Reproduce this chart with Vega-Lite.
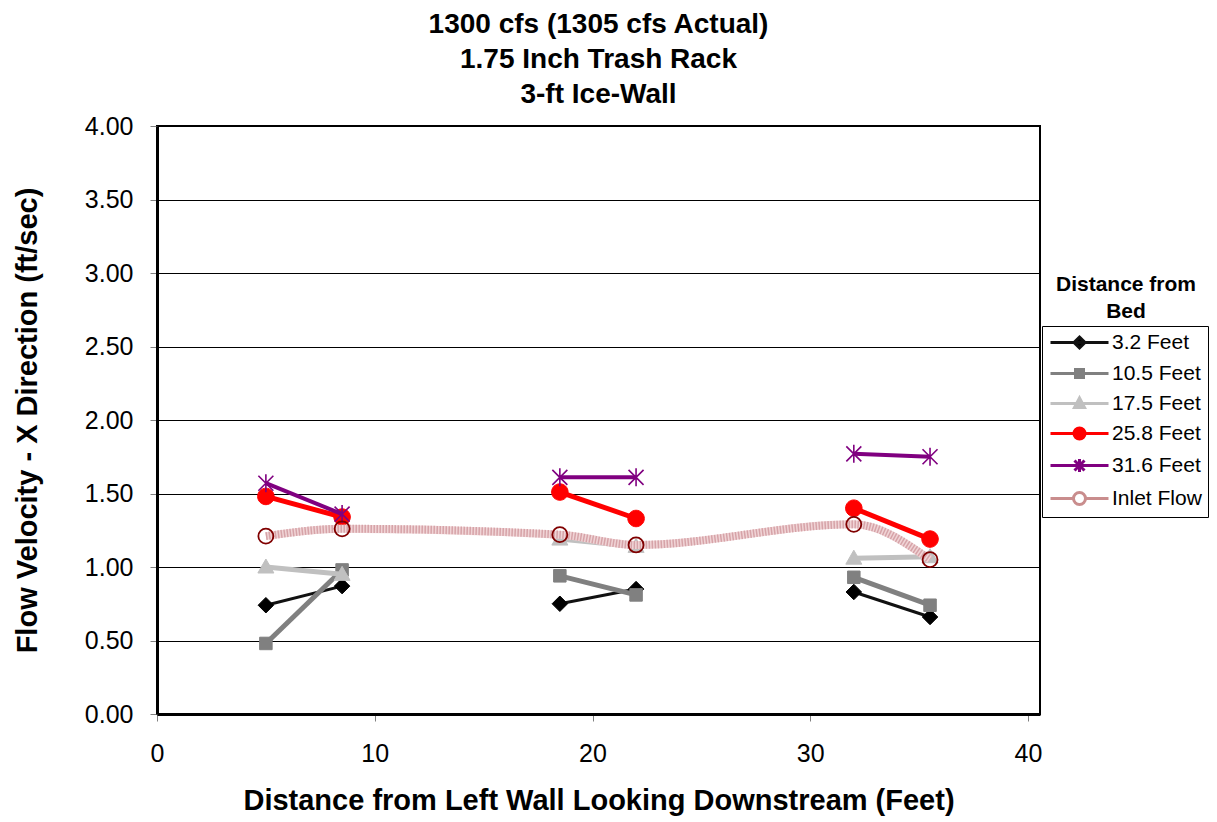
{
  "$schema": "https://vega.github.io/schema/vega-lite/v6.json",
  "width": 883,
  "height": 588,
  "autosize": {"type": "none"},
  "padding": {"left": 157, "top": 126, "right": 177, "bottom": 108},
  "background": "white",
  "title": {
    "text": ["1300 cfs (1305 cfs Actual)", "1.75 Inch Trash Rack", "3-ft Ice-Wall"],
    "fontSize": 28, "fontWeight": "bold", "font": "Liberation Sans", "lineHeight": 35,
    "offset": 5, "anchor": "middle", "color": "#000"
  },
  "data": {
    "values": [
      {"series": "3.2 Feet", "x": 5, "y": 0.74, "seg": "a"},
      {"series": "3.2 Feet", "x": 8.5, "y": 0.87, "seg": "a"},
      {"series": "3.2 Feet", "x": 18.5, "y": 0.75, "seg": "b"},
      {"series": "3.2 Feet", "x": 22, "y": 0.85, "seg": "b"},
      {"series": "3.2 Feet", "x": 32, "y": 0.83, "seg": "c"},
      {"series": "3.2 Feet", "x": 35.5, "y": 0.66, "seg": "c"},
      {"series": "10.5 Feet", "x": 5, "y": 0.48, "seg": "a"},
      {"series": "10.5 Feet", "x": 8.5, "y": 0.98, "seg": "a"},
      {"series": "10.5 Feet", "x": 18.5, "y": 0.94, "seg": "b"},
      {"series": "10.5 Feet", "x": 22, "y": 0.81, "seg": "b"},
      {"series": "10.5 Feet", "x": 32, "y": 0.93, "seg": "c"},
      {"series": "10.5 Feet", "x": 35.5, "y": 0.74, "seg": "c"},
      {"series": "17.5 Feet", "x": 5, "y": 1.00, "seg": "a"},
      {"series": "17.5 Feet", "x": 8.5, "y": 0.95, "seg": "a"},
      {"series": "17.5 Feet", "x": 18.5, "y": 1.19, "seg": "b"},
      {"series": "17.5 Feet", "x": 22, "y": 1.14, "seg": "b"},
      {"series": "17.5 Feet", "x": 32, "y": 1.06, "seg": "c"},
      {"series": "17.5 Feet", "x": 35.5, "y": 1.07, "seg": "c"},
      {"series": "25.8 Feet", "x": 5, "y": 1.48, "seg": "a"},
      {"series": "25.8 Feet", "x": 8.5, "y": 1.34, "seg": "a"},
      {"series": "25.8 Feet", "x": 18.5, "y": 1.51, "seg": "b"},
      {"series": "25.8 Feet", "x": 22, "y": 1.33, "seg": "b"},
      {"series": "25.8 Feet", "x": 32, "y": 1.40, "seg": "c"},
      {"series": "25.8 Feet", "x": 35.5, "y": 1.19, "seg": "c"},
      {"series": "31.6 Feet", "x": 5, "y": 1.57, "seg": "a"},
      {"series": "31.6 Feet", "x": 8.5, "y": 1.36, "seg": "a"},
      {"series": "31.6 Feet", "x": 18.5, "y": 1.61, "seg": "b"},
      {"series": "31.6 Feet", "x": 22, "y": 1.61, "seg": "b"},
      {"series": "31.6 Feet", "x": 32, "y": 1.77, "seg": "c"},
      {"series": "31.6 Feet", "x": 35.5, "y": 1.75, "seg": "c"},
      {"series": "Inlet Flow", "x": 5, "y": 1.21, "seg": "a"},
      {"series": "Inlet Flow", "x": 8.5, "y": 1.26, "seg": "a"},
      {"series": "Inlet Flow", "x": 18.5, "y": 1.22, "seg": "a"},
      {"series": "Inlet Flow", "x": 22, "y": 1.15, "seg": "a"},
      {"series": "Inlet Flow", "x": 32, "y": 1.29, "seg": "a"},
      {"series": "Inlet Flow", "x": 35.5, "y": 1.05, "seg": "a"}
    ]
  },
  "layer": [
    {
      "transform": [{"filter": "datum.series === '3.2 Feet'"}],
      "mark": {"type": "line", "interpolate": "monotone", "color": "#111111", "strokeWidth": 3},
      "encoding": {
        "x": {
          "field": "x", "type": "quantitative",
          "scale": {"domain": [0, 40.55], "nice": false, "zero": true},
          "axis": {
            "values": [0, 10, 20, 30, 40], "grid": false, "labelOverlap": false, "labelFlush": false,
            "domainColor": "#000", "domainWidth": 3,
            "tickColor": "#808080", "tickSize": 7, "tickWidth": 1,
            "labelFontSize": 25, "labelPadding": 20, "labelColor": "#000",
            "title": "Distance from Left Wall Looking Downstream (Feet)",
            "titleFontSize": 29, "titleFontWeight": "bold", "titlePadding": 20, "titleColor": "#000"
          }
        },
        "y": {
          "field": "y", "type": "quantitative",
          "scale": {"domain": [0, 4], "nice": false},
          "axis": {
            "values": [0, 0.25, 0.5, 0.75, 1, 1.25, 1.5, 1.75, 2, 2.25, 2.5, 2.75, 3, 3.25, 3.5, 3.75, 4],
            "format": ".2f", "grid": true, "gridColor": "#000", "gridWidth": 1, "labelOverlap": false,
            "domainColor": "#000", "domainWidth": 3,
            "tickColor": "#808080", "tickSize": 7, "tickWidth": 1,
            "labelFontSize": 25, "labelPadding": 17, "labelColor": "#000",
            "title": "Flow Velocity - X Direction (ft/sec)",
            "titleFontSize": 29, "titleFontWeight": "bold", "titlePadding": 42, "titleColor": "#000"
          }
        },
        "detail": {"field": "seg"}
      }
    },
    {
      "transform": [{"filter": "datum.series === '3.2 Feet'"}],
      "mark": {"type": "point", "shape": "M0,-1.55L1.55,0L0,1.55L-1.55,0Z", "size": 100, "filled": true, "fill": "#000000", "stroke": "#000000", "strokeWidth": 1, "opacity": 1},
      "encoding": {
        "x": {"field": "x", "type": "quantitative"},
        "y": {"field": "y", "type": "quantitative"}
      }
    },
    {
      "transform": [{"filter": "datum.series === '10.5 Feet'"}],
      "mark": {"type": "line", "interpolate": "monotone", "color": "#808080", "strokeWidth": 5},
      "encoding": {
        "x": {"field": "x", "type": "quantitative"},
        "y": {"field": "y", "type": "quantitative"},
        "detail": {"field": "seg"}
      }
    },
    {
      "transform": [{"filter": "datum.series === '10.5 Feet'"}],
      "mark": {"type": "point", "shape": "M-1.25,-1.25L1.25,-1.25L1.25,1.25L-1.25,1.25Z", "size": 100, "filled": true, "fill": "#808080", "stroke": "#808080", "strokeWidth": 1, "opacity": 1},
      "encoding": {
        "x": {"field": "x", "type": "quantitative"},
        "y": {"field": "y", "type": "quantitative"}
      }
    },
    {
      "transform": [{"filter": "datum.series === '17.5 Feet'"}],
      "mark": {"type": "line", "interpolate": "monotone", "color": "#c0c0c0", "strokeWidth": 5},
      "encoding": {
        "x": {"field": "x", "type": "quantitative"},
        "y": {"field": "y", "type": "quantitative"},
        "detail": {"field": "seg"}
      }
    },
    {
      "transform": [{"filter": "datum.series === '17.5 Feet'"}],
      "mark": {"type": "point", "shape": "M0,-1.6L1.6,1.2L-1.6,1.2Z", "size": 100, "filled": true, "fill": "#c0c0c0", "stroke": "#c0c0c0", "strokeWidth": 1, "opacity": 1},
      "encoding": {
        "x": {"field": "x", "type": "quantitative"},
        "y": {"field": "y", "type": "quantitative"}
      }
    },
    {
      "transform": [{"filter": "datum.series === '25.8 Feet'"}],
      "mark": {"type": "line", "interpolate": "monotone", "color": "#ff0000", "strokeWidth": 5},
      "encoding": {
        "x": {"field": "x", "type": "quantitative"},
        "y": {"field": "y", "type": "quantitative"},
        "detail": {"field": "seg"}
      }
    },
    {
      "transform": [{"filter": "datum.series === '25.8 Feet'"}],
      "mark": {"type": "point", "shape": "M1.65,0A1.65,1.65,0,1,1,-1.65,0A1.65,1.65,0,1,1,1.65,0Z", "size": 100, "filled": true, "fill": "#ff0000", "stroke": "#ff0000", "strokeWidth": 1, "opacity": 1},
      "encoding": {
        "x": {"field": "x", "type": "quantitative"},
        "y": {"field": "y", "type": "quantitative"}
      }
    },
    {
      "transform": [{"filter": "datum.series === '31.6 Feet'"}],
      "mark": {"type": "line", "interpolate": "monotone", "color": "#800080", "strokeWidth": 4},
      "encoding": {
        "x": {"field": "x", "type": "quantitative"},
        "y": {"field": "y", "type": "quantitative"},
        "detail": {"field": "seg"}
      }
    },
    {
      "transform": [{"filter": "datum.series === '31.6 Feet'"}],
      "mark": {"type": "point", "shape": "M-1.5,-1.5L1.5,1.5M-1.5,1.5L1.5,-1.5M0,-1.8L0,1.8", "size": 100, "filled": false, "stroke": "#800080", "strokeWidth": 1.6, "opacity": 1},
      "encoding": {
        "x": {"field": "x", "type": "quantitative"},
        "y": {"field": "y", "type": "quantitative"}
      }
    },
    {
      "transform": [{"filter": "datum.series === 'Inlet Flow'"}],
      "mark": {"type": "line", "interpolate": "monotone", "color": "#f0d4d6", "strokeWidth": 8},
      "encoding": {
        "x": {"field": "x", "type": "quantitative"},
        "y": {"field": "y", "type": "quantitative"}
      }
    },
    {
      "transform": [{"filter": "datum.series === 'Inlet Flow'"}],
      "mark": {"type": "line", "interpolate": "monotone", "color": "#d6a3a8", "strokeWidth": 8, "strokeDash": [1.5, 1.5]},
      "encoding": {
        "x": {"field": "x", "type": "quantitative"},
        "y": {"field": "y", "type": "quantitative"}
      }
    },
    {
      "transform": [{"filter": "datum.series === 'Inlet Flow'"}],
      "mark": {"type": "point", "shape": "M1.5,0A1.5,1.5,0,1,1,-1.5,0A1.5,1.5,0,1,1,1.5,0Z", "size": 100, "filled": false, "stroke": "#800000", "strokeWidth": 1.8, "opacity": 1},
      "encoding": {
        "x": {"field": "x", "type": "quantitative"},
        "y": {"field": "y", "type": "quantitative"}
      }
    },
    {
      "mark": {"type": "point", "opacity": 0, "filled": true, "strokeWidth": 3, "size": 100},
      "encoding": {
        "x": {"field": "x", "type": "quantitative"},
        "y": {"field": "y", "type": "quantitative"},
        "shape": {
          "field": "series", "type": "nominal",
          "scale": {
            "domain": ["3.2 Feet", "10.5 Feet", "17.5 Feet", "25.8 Feet", "31.6 Feet", "Inlet Flow"],
            "range": [
              "M-5.8,0L5.8,0M0,-1.1L1.1,0L0,1.1L-1.1,0Z",
              "M-5.8,0L5.8,0M-0.8,-0.8L0.8,-0.8L0.8,0.8L-0.8,0.8Z",
              "M-5.8,0L5.8,0M0,-1.1L1,0.8L-1,0.8Z",
              "M-5.8,0L5.8,0M1.1,0A1.1,1.1,0,1,1,-1.1,0A1.1,1.1,0,1,1,1.1,0Z",
              "M-5.8,0L5.8,0M-1,-1L1,1M-1,1L1,-1M0,-1.3L0,1.3",
              "M-5.8,0L-1.2,0M1.2,0L5.8,0M1.2,0A1.2,1.2,0,1,1,-1.2,0A1.2,1.2,0,1,1,1.2,0Z"
            ]
          },
          "legend": {
            "orient": "none", "legendX": 885, "legendY": 200,
            "title": null, "padding": 6, "strokeColor": "#000",
            "labelFontSize": 21, "labelColor": "#000", "labelOffset": 22,
            "symbolSize": 100, "symbolOffset": 21, "symbolStrokeWidth": 3, "symbolOpacity": 1, "rowPadding": 8
          }
        },
        "stroke": {
          "field": "series", "type": "nominal",
          "scale": {
            "domain": ["3.2 Feet", "10.5 Feet", "17.5 Feet", "25.8 Feet", "31.6 Feet", "Inlet Flow"],
            "range": ["#111111", "#808080", "#c0c0c0", "#ff0000", "#800080", "#c98d8d"]
          },
          "legend": {
            "orient": "none", "legendX": 885, "legendY": 200,
            "title": null, "padding": 6, "strokeColor": "#000",
            "labelFontSize": 21, "labelColor": "#000", "labelOffset": 22,
            "symbolSize": 100, "symbolOffset": 21, "symbolStrokeWidth": 3, "symbolOpacity": 1, "rowPadding": 8
          }
        },
        "fill": {
          "field": "series", "type": "nominal",
          "scale": {
            "domain": ["3.2 Feet", "10.5 Feet", "17.5 Feet", "25.8 Feet", "31.6 Feet", "Inlet Flow"],
            "range": ["#000000", "#808080", "#c0c0c0", "#ff0000", "#800080", "#ffffff"]
          },
          "legend": {
            "orient": "none", "legendX": 885, "legendY": 200,
            "title": null, "padding": 6, "strokeColor": "#000",
            "labelFontSize": 21, "labelColor": "#000", "labelOffset": 22,
            "symbolSize": 100, "symbolOffset": 21, "symbolStrokeWidth": 3, "symbolOpacity": 1, "rowPadding": 8
          }
        },
        "strokeWidth": {
          "field": "series", "type": "ordinal",
          "scale": {"domain": ["3.2 Feet", "10.5 Feet", "17.5 Feet", "25.8 Feet", "31.6 Feet"], "range": [3, 3]},
          "legend": {
            "orient": "none", "legendX": 899, "legendY": 148,
            "title": ["Distance from", "Bed"], "titleFontSize": 21, "titleFontWeight": "bold",
            "titleColor": "#000", "titleAnchor": "middle", "titleLineHeight": 27,
            "symbolOpacity": 0, "labelOpacity": 0, "labelExpr": "''", "padding": 0
          }
        }
      }
    }
  ],
  "config": {
    "font": "Liberation Sans",
    "view": {"stroke": "#000", "strokeWidth": 2},
    "axis": {"labelFont": "Liberation Sans", "titleFont": "Liberation Sans"},
    "legend": {"labelFont": "Liberation Sans", "titleFont": "Liberation Sans"}
  }
}
